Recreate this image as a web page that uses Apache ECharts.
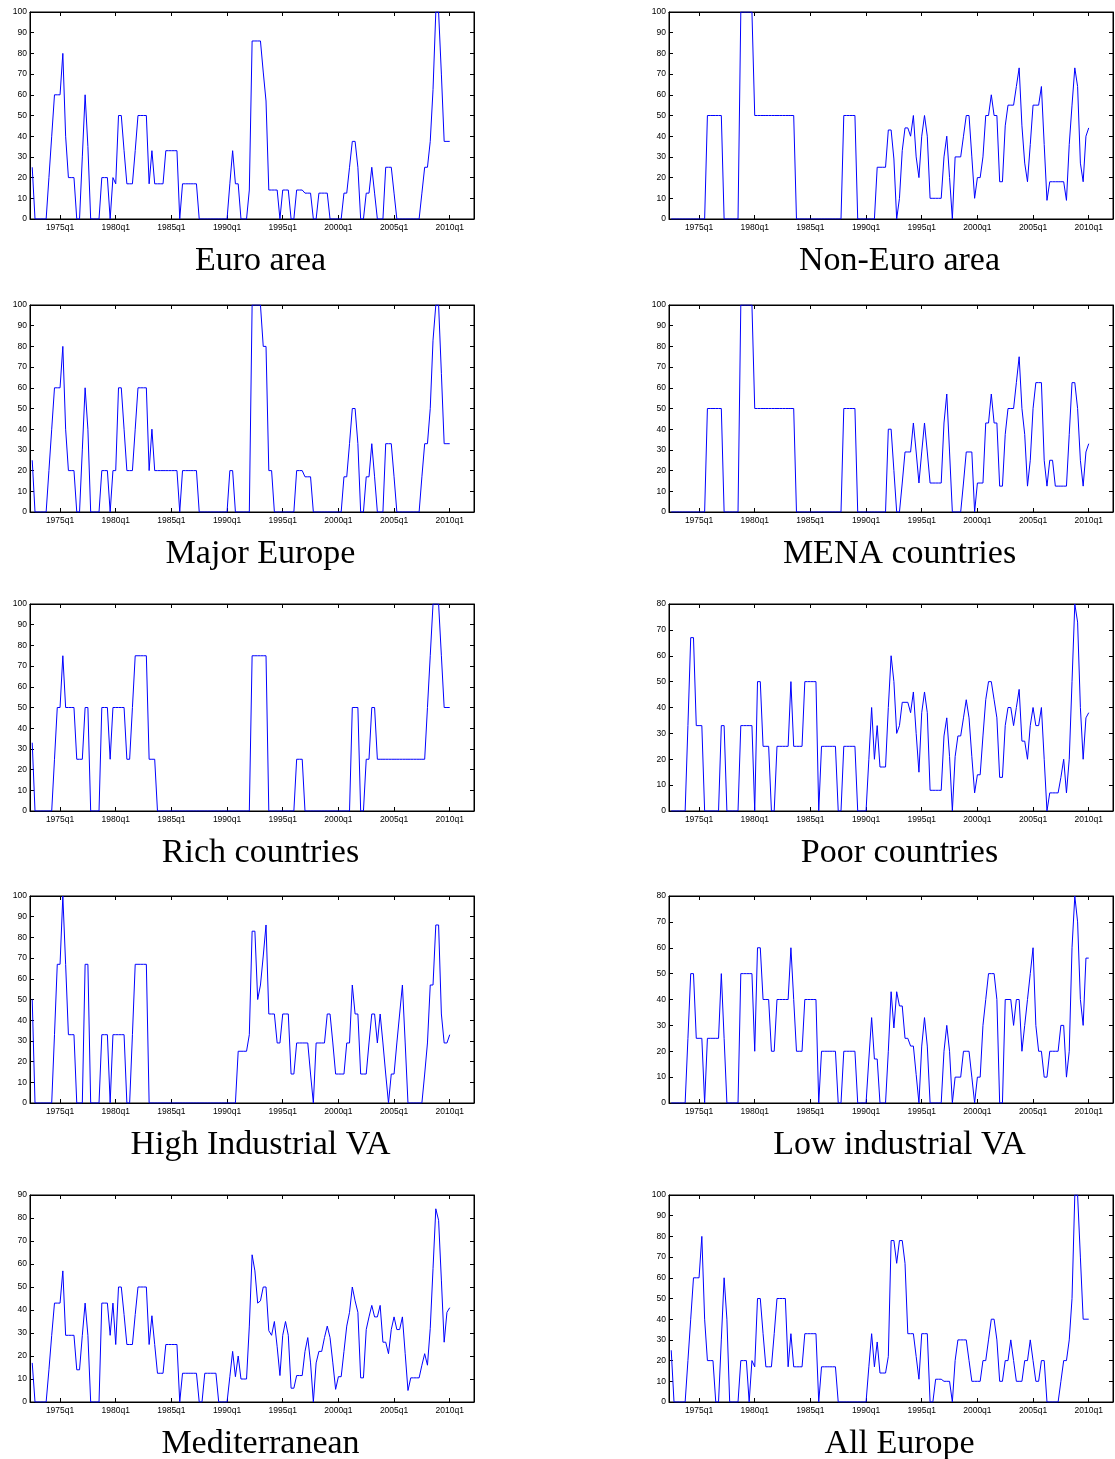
<!DOCTYPE html>
<html>
<head>
<meta charset="utf-8">
<title>Quarterly shares by country group</title>
<script src="https://cdn.jsdelivr.net/npm/echarts@6.0.0/dist/echarts.min.js"></script>
<style>
  html, body { margin: 0; padding: 0; background: #fff; }
  #chart { width: 1115px; height: 1459px; }
</style>
</head>
<body>
<div id="chart"></div>
<script>
// quarterly observations, 1972q3 .. 2010q1 (151 quarters)
var firstYear = 1972, firstQuarter = 3, nQuarters = 151;
var tickYears = [1975, 1980, 1985, 1990, 1995, 2000, 2005, 2010];

var euroArea = [
  25,0,0,0,0,0,20,40,60,60,
  60,80,40,20,20,20,0,0,30,60,
  35,0,0,0,0,20,20,20,0,20,
  17,50,50,33,17,17,17,33,50,50,
  50,50,17,33,17,17,17,17,33,33,
  33,33,33,0,17,17,17,17,17,17,
  0,0,0,0,0,0,0,0,0,0,
  0,17,33,17,17,0,0,0,14,86,
  86,86,86,71,57,14,14,14,14,0,
  14,14,14,0,0,14,14,14,12.5,12.5,
  12.5,0,0,12.5,12.5,12.5,12.5,0,0,0,
  0,0,12.5,12.5,25,37.5,37.5,25,0,0,
  12.5,12.5,25,12.5,0,0,0,25,25,25,
  12.5,0,0,0,0,0,0,0,0,0,
  12.5,25,25,37.5,62.5,100,100,70,37.5,37.5,
  37.5
];

var nonEuroArea = [
  0,0,0,0,0,0,0,0,0,0,
  0,0,0,50,50,50,50,50,50,0,
  0,0,0,0,0,100,100,100,100,100,
  50,50,50,50,50,50,50,50,50,50,
  50,50,50,50,50,0,0,0,0,0,
  0,0,0,0,0,0,0,0,0,0,
  0,0,50,50,50,50,50,0,0,0,
  0,0,0,0,25,25,25,25,43,43,
  29,0,10,33,44,44,40,50,30,20,
  40,50,40,10,10,10,10,10,30,40,
  20,0,30,30,30,40,50,50,30,10,
  20,20,30,50,50,60,50,50,18,18,
  45,55,55,55,64,73,45,27,18,36,
  55,55,55,64,36,9,18,18,18,18,
  18,18,9,36,55,73,64,27,18,40,
  44
];

var majorEurope = [
  25,0,0,0,0,0,20,40,60,60,
  60,80,40,20,20,20,0,0,30,60,
  40,0,0,0,0,20,20,20,0,20,
  20,60,60,40,20,20,20,40,60,60,
  60,60,20,40,20,20,20,20,20,20,
  20,20,20,0,20,20,20,20,20,20,
  0,0,0,0,0,0,0,0,0,0,
  0,20,20,0,0,0,0,0,0,100,
  100,100,100,80,80,20,20,0,0,0,
  0,0,0,0,0,20,20,20,17,17,
  17,0,0,0,0,0,0,0,0,0,
  0,0,17,17,33,50,50,33,0,0,
  17,17,33,17,0,0,0,33,33,33,
  17,0,0,0,0,0,0,0,0,0,
  17,33,33,50,83,100,100,67,33,33,
  33
];

var menaCountries = [
  0,0,0,0,0,0,0,0,0,0,
  0,0,0,50,50,50,50,50,50,0,
  0,0,0,0,0,100,100,100,100,100,
  50,50,50,50,50,50,50,50,50,50,
  50,50,50,50,50,0,0,0,0,0,
  0,0,0,0,0,0,0,0,0,0,
  0,0,50,50,50,50,50,0,0,0,
  0,0,0,0,0,0,0,0,40,40,
  20,0,0,14,29,29,29,43,29,14,
  29,43,29,14,14,14,14,14,43,57,
  29,0,0,0,0,14,29,29,29,0,
  14,14,14,43,43,57,43,43,12.5,12.5,
  37.5,50,50,50,62.5,75,50,37.5,12.5,25,
  50,62.5,62.5,62.5,25,12.5,25,25,12.5,12.5,
  12.5,12.5,12.5,37.5,62.5,62.5,50,25,12.5,29,
  33
];

var richCountries = [
  33,0,0,0,0,0,0,0,25,50,
  50,75,50,50,50,50,25,25,25,50,
  50,0,0,0,0,50,50,50,25,50,
  50,50,50,50,25,25,50,75,75,75,
  75,75,25,25,25,0,0,0,0,0,
  0,0,0,0,0,0,0,0,0,0,
  0,0,0,0,0,0,0,0,0,0,
  0,0,0,0,0,0,0,0,0,75,
  75,75,75,75,75,0,0,0,0,0,
  0,0,0,0,0,25,25,25,0,0,
  0,0,0,0,0,0,0,0,0,0,
  0,0,0,0,0,50,50,50,0,0,
  25,25,50,50,25,25,25,25,25,25,
  25,25,25,25,25,25,25,25,25,25,
  25,25,50,75,100,100,100,75,50,50,
  50
];

var poorCountries = [
  0,0,0,0,0,0,33,67,67,33,
  33,33,0,0,0,0,0,0,33,33,
  0,0,0,0,0,33,33,33,33,33,
  0,50,50,25,25,25,0,0,25,25,
  25,25,25,50,25,25,25,25,50,50,
  50,50,50,0,25,25,25,25,25,25,
  0,0,25,25,25,25,25,0,0,0,
  0,20,40,20,33,17,17,17,40,60,
  50,30,33,42,42,42,38,46,30,15,
  38,46,38,8,8,8,8,8,29,36,
  21,0,21,29,29,36,43,36,21,7,
  14,14,29,43,50,50,43,36,13,13,
  33,40,40,33,40,47,27,27,20,33,
  40,33,33,40,20,0,7,7,7,7,
  13,20,7,20,50,80,73,40,20,36,
  38
];

var highIndustrialVA = [
  50,0,0,0,0,0,0,0,33,67,
  67,100,67,33,33,33,0,0,0,67,
  67,0,0,0,0,33,33,33,0,33,
  33,33,33,33,0,0,33,67,67,67,
  67,67,0,0,0,0,0,0,0,0,
  0,0,0,0,0,0,0,0,0,0,
  0,0,0,0,0,0,0,0,0,0,
  0,0,0,0,25,25,25,25,33,83,
  83,50,57,71,86,43,43,43,29,29,
  43,43,43,14,14,29,29,29,29,29,
  14,0,29,29,29,29,43,43,29,14,
  14,14,14,29,29,57,43,43,14,14,
  14,29,43,43,29,43,29,14,0,14,
  14,29,43,57,29,0,0,0,0,0,
  0,14,29,57,57,86,86,43,29,29,
  33
];

var lowIndustrialVA = [
  0,0,0,0,0,0,25,50,50,25,
  25,25,0,25,25,25,25,25,50,25,
  0,0,0,0,0,50,50,50,50,50,
  20,60,60,40,40,40,20,20,40,40,
  40,40,40,60,40,20,20,20,40,40,
  40,40,40,0,20,20,20,20,20,20,
  0,0,20,20,20,20,20,0,0,0,
  0,17,33,17,17,0,0,0,20,43,
  29,43,37.5,37.5,25,25,22,22,11,0,
  22,33,22,0,0,0,0,0,20,30,
  20,0,10,10,10,20,20,20,10,0,
  10,10,30,40,50,50,50,40,0,0,
  40,40,40,30,40,40,20,30,40,50,
  60,30,20,20,10,10,20,20,20,20,
  30,30,10,20,60,80,70,40,30,56,
  56
];

var mediterranean = [
  17,0,0,0,0,0,14,29,43,43,
  43,57,29,29,29,29,14,14,29,43,
  29,0,0,0,0,43,43,43,29,43,
  25,50,50,38,25,25,25,38,50,50,
  50,50,25,37.5,25,12.5,12.5,12.5,25,25,
  25,25,25,0,12.5,12.5,12.5,12.5,12.5,12.5,
  0,0,12.5,12.5,12.5,12.5,12.5,0,0,0,
  0,11,22,11,20,10,10,10,33,64,
  57,43,44,50,50,31,29,35,24,11.5,
  29,35,29,6,6,11.5,11.5,11.5,22,28,
  17,0,17,22,22,28,33,28,17,5.5,
  11,11,22,33,39,50,44,39,10.5,10.5,
  31.5,37,42,37,37,42,26,26,21,31.5,
  37,31.5,31.5,37,21,5,10.5,10.5,10.5,10.5,
  16,21,16,32,58,84,79,53,26,39,
  41
];

var allEurope = [
  25,0,0,0,0,0,20,40,60,60,
  60,80,40,20,20,20,0,0,30,60,
  40,0,0,0,0,20,20,20,0,20,
  17,50,50,33,17,17,17,33,50,50,
  50,50,17,33,17,17,17,17,33,33,
  33,33,33,0,17,17,17,17,17,17,
  0,0,0,0,0,0,0,0,0,0,
  0,17,33,17,29,14,14,14,22,78,
  78,67,78,78,67,33,33,33,22,11,
  33,33,33,0,0,11,11,11,10,10,
  10,0,20,30,30,30,30,20,10,10,
  10,10,20,20,30,40,40,30,10,10,
  20,20,30,20,10,10,10,20,20,30,
  20,10,10,20,20,0,0,0,0,0,
  10,20,20,30,50,100,100,70,40,40,
  40
];

var panelTitles = ['Euro area', 'Non-Euro area', 'Major Europe', 'MENA countries',
  'Rich countries', 'Poor countries', 'High Industrial VA', 'Low industrial VA',
  'Mediterranean', 'All Europe'];
var panelSeries = [euroArea, nonEuroArea, majorEurope, menaCountries, richCountries,
  poorCountries, highIndustrialVA, lowIndustrialVA, mediterranean, allEurope];
var panelMax = [100, 100, 100, 100, 100, 80, 100, 80, 90, 100];

// quarter positions on a year scale (q1 = .00, q2 = .25 ...)
var quarterTimes = [];
for (var i = 0; i < nQuarters; i++) {
  var q = (firstQuarter - 1) + i;
  quarterTimes.push(firstYear + Math.floor(q / 4) + (q % 4) / 4);
}

var colLeft = [30, 669], rowTop = [12, 305, 604, 896, 1195];
var plotW = 444, plotH = 207;
var xMin = 1972.3, xMax = 2012.18;
var titleX = [260.5, 899.5], titleY = [261, 554, 853, 1145, 1444];

var chart = echarts.init(document.getElementById('chart'), null, { renderer: 'canvas' });

var grids = [], xAxes = [], yAxes = [], series = [], texts = [];
var axisLine = { show: true, onZero: false, lineStyle: { color: '#000', width: 1 } };
var labelFont = { fontSize: 8.5, color: '#000', fontFamily: 'Liberation Sans, Arial, sans-serif' };

panelSeries.forEach(function (vals, p) {
  var col = p % 2, row = Math.floor(p / 2);
  grids.push({
    left: colLeft[col], top: rowTop[row], width: plotW, height: plotH,
    show: true, borderColor: '#000', borderWidth: 1, backgroundColor: '#fff'
  });
  // bottom x axis with labels, top x axis only ticks
  xAxes.push({
    type: 'value', gridIndex: p, position: 'bottom', min: xMin, max: xMax,
    axisLine: axisLine, splitLine: { show: false },
    axisTick: { inside: true, length: 4, customValues: tickYears, lineStyle: { color: '#000' } },
    axisLabel: Object.assign({ customValues: tickYears, margin: 4,
      formatter: function (v) { return Math.round(v) + 'q1'; } }, labelFont)
  });
  xAxes.push({
    type: 'value', gridIndex: p, position: 'top', min: xMin, max: xMax,
    axisLine: axisLine, splitLine: { show: false },
    axisTick: { inside: true, length: 4, customValues: tickYears, lineStyle: { color: '#000' } },
    axisLabel: { show: false }
  });
  yAxes.push({
    type: 'value', gridIndex: p, position: 'left', min: 0, max: panelMax[p], interval: 10,
    axisLine: axisLine, splitLine: { show: false },
    axisTick: { inside: true, length: 4, lineStyle: { color: '#000' } },
    axisLabel: Object.assign({ margin: 3 }, labelFont)
  });
  yAxes.push({
    type: 'value', gridIndex: p, position: 'right', min: 0, max: panelMax[p], interval: 10,
    axisLine: axisLine, splitLine: { show: false },
    axisTick: { inside: true, length: 4, lineStyle: { color: '#000' } },
    axisLabel: { show: false }
  });
  series.push({
    type: 'line', name: panelTitles[p], xAxisIndex: 2 * p, yAxisIndex: 2 * p,
    data: vals.map(function (v, k) { return [quarterTimes[k], v]; }),
    showSymbol: false, symbol: 'none', clip: true,
    lineStyle: { color: '#0000ff', width: 1 }
  });
  texts.push({
    type: 'text', x: titleX[col], y: titleY[row],
    style: {
      text: panelTitles[p], fill: '#000',
      font: '34px "Liberation Serif", "Times New Roman", serif',
      align: 'center', verticalAlign: 'middle',
      textAlign: 'center', textVerticalAlign: 'middle'
    }
  });
});

chart.setOption({
  animation: false,
  backgroundColor: '#fff',
  grid: grids,
  xAxis: xAxes,
  yAxis: yAxes,
  series: series,
  graphic: texts
});
</script>
</body>
</html>
